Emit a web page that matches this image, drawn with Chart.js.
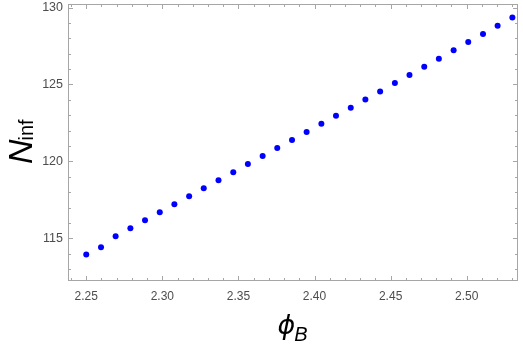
<!DOCTYPE html>
<html>
<head>
<meta charset="utf-8">
<script src="https://cdn.jsdelivr.net/npm/chart.js@4"></script>
<style>
  html, body { margin: 0; padding: 0; background: #fff; }
  #wrap { width: 523px; height: 346px; }
</style>
</head>
<body>
<div id="wrap"><canvas id="chart" width="523" height="346"></canvas></div>
<script>
// phi_B values (x) and N_inf values (y)
const phiB = [2.25, 2.2597, 2.2693, 2.2790, 2.2886, 2.2983, 2.3079, 2.3176, 2.3272, 2.3369,
  2.3466, 2.3562, 2.3659, 2.3755, 2.3852, 2.3948, 2.4045, 2.4141, 2.4238, 2.4334,
  2.4431, 2.4528, 2.4624, 2.4721, 2.4817, 2.4914, 2.5010, 2.5107, 2.5203, 2.53];
const nInf = [113.96, 114.43, 115.13, 115.65, 116.17, 116.69, 117.21, 117.73, 118.25, 118.77,
  119.29, 119.83, 120.35, 120.87, 121.39, 121.91, 122.45, 122.97, 123.49, 124.03,
  124.55, 125.09, 125.61, 126.15, 126.67, 127.22, 127.76, 128.28, 128.81, 129.36];

const xMajor = [2.25, 2.30, 2.35, 2.40, 2.45, 2.50];
const xMinor = [2.24, 2.26, 2.27, 2.28, 2.29, 2.31, 2.32, 2.33, 2.34, 2.36, 2.37, 2.38, 2.39,
  2.41, 2.42, 2.43, 2.44, 2.46, 2.47, 2.48, 2.49, 2.51, 2.52, 2.53];
const yMajor = [115, 120, 125, 130];
const yMinor = [113, 114, 116, 117, 118, 119, 121, 122, 123, 124, 126, 127, 128, 129];

const xRange = [2.238, 2.5337];
const yRange = [112.23, 130.23];

const frameColor = '#a6a6a6';
const labelColor = '#4d4d4d';

// frame with inward ticks on all four sides, like the original
const framePlugin = {
  id: 'frame',
  afterDraw(chart) {
    const { ctx, chartArea: a, scales } = chart;
    const xs = scales.x, ys = scales.y;
    ctx.save();
    ctx.strokeStyle = frameColor;
    ctx.lineWidth = 1;
    ctx.strokeRect(a.left + 0.5, a.top + 0.5, a.right - a.left - 1, a.bottom - a.top - 1);
    const tick = (vals, len) => {
      vals.forEach(v => {
        const px = Math.round(xs.getPixelForValue(v)) + 0.5;
        ctx.beginPath();
        ctx.moveTo(px, a.bottom); ctx.lineTo(px, a.bottom - len);
        ctx.moveTo(px, a.top); ctx.lineTo(px, a.top + len);
        ctx.stroke();
      });
    };
    const tickY = (vals, len) => {
      vals.forEach(v => {
        const py = Math.round(ys.getPixelForValue(v)) + 0.5;
        ctx.beginPath();
        ctx.moveTo(a.left, py); ctx.lineTo(a.left + len, py);
        ctx.moveTo(a.right, py); ctx.lineTo(a.right - len, py);
        ctx.stroke();
      });
    };
    tick(xMajor, 5); tick(xMinor, 3);
    tickY(yMajor, 5); tickY(yMinor, 3);

    // axis titles
    ctx.fillStyle = '#000';
    ctx.textBaseline = 'alphabetic';
    // N_inf, rotated
    ctx.save();
    ctx.translate(32, 164);
    ctx.rotate(-Math.PI / 2);
    ctx.font = 'italic 34px "Liberation Sans", Arial, sans-serif';
    ctx.textAlign = 'left';
    ctx.fillText('N', 0, 0);
    const nw = ctx.measureText('N').width;
    ctx.font = '20px "Liberation Sans", Arial, sans-serif';
    ctx.fillText('inf', nw - 1, 1);
    ctx.restore();
    // phi_B
    const cx = (a.left + a.right) / 2;
    ctx.font = 'italic 27px "DejaVu Sans", sans-serif';
    const pw = ctx.measureText('\u03d5').width;
    ctx.font = 'italic 20px "Liberation Sans", Arial, sans-serif';
    const bw = ctx.measureText('B').width;
    const x0 = cx - (pw + bw) / 2;
    ctx.font = 'italic 27px "DejaVu Sans", sans-serif';
    ctx.textAlign = 'left';
    ctx.fillText('\u03d5', x0, 334);
    ctx.font = 'italic 20px "Liberation Sans", Arial, sans-serif';
    ctx.fillText('B', x0 + pw - 1, 341);
    ctx.restore();
  }
};

new Chart(document.getElementById('chart').getContext('2d'), {
  type: 'scatter',
  data: {
    datasets: [{
      data: phiB.map((x, i) => ({ x, y: nInf[i] })),
      backgroundColor: '#0000ff',
      borderWidth: 0,
      pointRadius: 3,
      pointHoverRadius: 3
    }]
  },
  options: {
    responsive: false,
    animation: false,
    events: [],
    layout: { padding: { top: 4, right: 5, left: 0, bottom: 0 } },
    plugins: { legend: { display: false }, tooltip: { enabled: false } },
    scales: {
      x: {
        type: 'linear',
        min: xRange[0], max: xRange[1],
        afterBuildTicks: s => { s.ticks = xMajor.map(v => ({ value: v })); },
        afterFit: s => { s.height = 65; s.paddingLeft = 0; s.paddingRight = 0; },
        grid: { display: false, drawTicks: false },
        border: { display: false },
        ticks: {
          autoSkip: false, maxRotation: 0, padding: 8,
          color: labelColor,
          font: { family: '"Liberation Sans", Arial, sans-serif', size: 12 },
          callback: v => v.toFixed(2)
        }
      },
      y: {
        type: 'linear',
        min: yRange[0], max: yRange[1],
        afterBuildTicks: s => { s.ticks = yMajor.map(v => ({ value: v })); },
        afterFit: s => { s.width = 68; s.paddingTop = 0; s.paddingBottom = 0; },
        grid: { display: false, drawTicks: false },
        border: { display: false },
        ticks: {
          autoSkip: false, padding: 5,
          color: labelColor,
          font: { family: '"Liberation Sans", Arial, sans-serif', size: 12.5 },
          callback: v => String(v)
        }
      }
    }
  },
  plugins: [framePlugin]
});
</script>
</body>
</html>
